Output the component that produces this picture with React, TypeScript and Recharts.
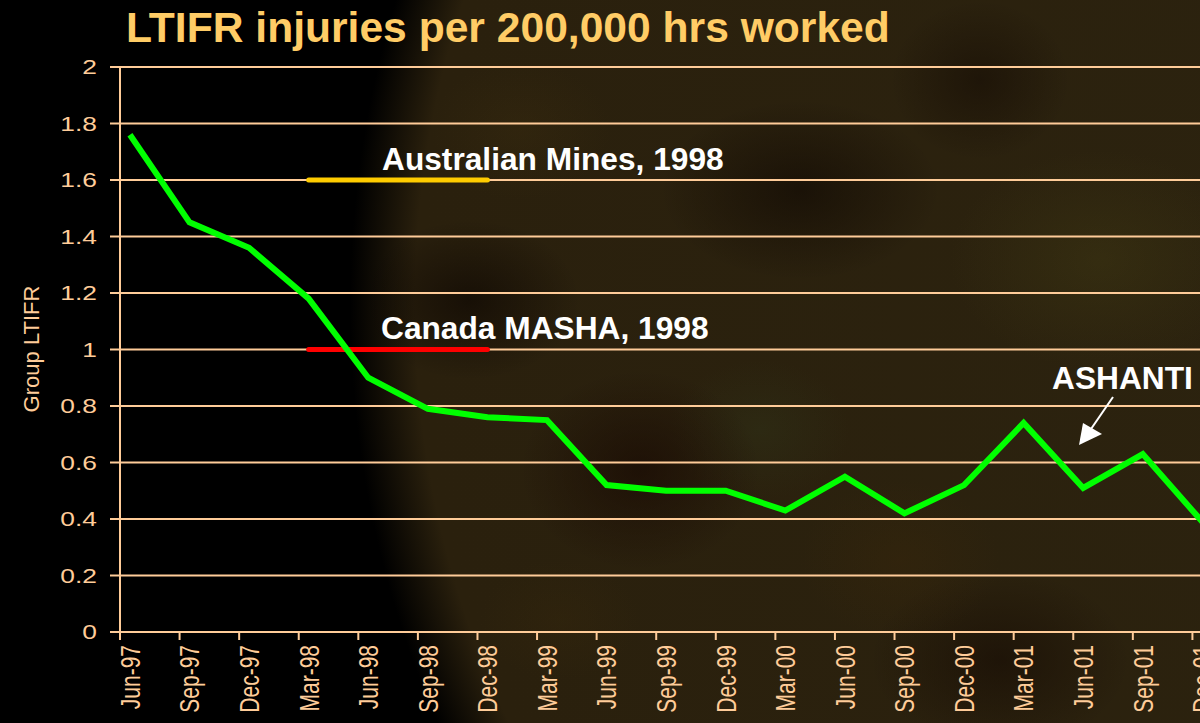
import { LineChart, Line, XAxis, YAxis, CartesianGrid } from 'recharts'

const quarters = [
  'Jun-97', 'Sep-97', 'Dec-97', 'Mar-98', 'Jun-98', 'Sep-98', 'Dec-98', 'Mar-99',
  'Jun-99', 'Sep-99', 'Dec-99', 'Mar-00', 'Jun-00', 'Sep-00', 'Dec-00', 'Mar-01',
  'Jun-01', 'Sep-01', 'Dec-01',
]
const ltifr = [
  1.76, 1.45, 1.36, 1.18, 0.9, 0.79, 0.76, 0.75,
  0.52, 0.5, 0.5, 0.43, 0.55, 0.42, 0.52, 0.74,
  0.51, 0.63, 0.39,
]
const yTicks = [0, 0.2, 0.4, 0.6, 0.8, 1, 1.2, 1.4, 1.6, 1.8, 2]

// industry benchmarks, drawn from Mar-98 to Dec-98
const benchmarkSpan = ['Mar-98', 'Dec-98']
const australianMines = 1.6
const canadaMasha = 1.0

const MONTHS_MAX = 57
const CHART_W = 1252
const CHART_H = 723
const LEFT = 120
const pxPerMonth = (CHART_W - LEFT) / MONTHS_MAX

const PEACH = '#FFCC99'
const FONT = '"Liberation Sans", Arial, sans-serif'

// points sit mid-month, ticks at the start of each quarter month
const data = quarters.map((q, i) => ({ q, month: i * 3 + 0.5, ltifr: ltifr[i] }))
const xTicks = quarters.map((_, i) => i * 3)

const spanData = (v: number) =>
  benchmarkSpan.map((q) => ({ month: quarters.indexOf(q) * 3 + 0.5, v }))

function XTick({ x, y, payload }: any) {
  const label = quarters[Math.round(payload.value / 3)]
  return (
    <g transform={`translate(${x + pxPerMonth / 2},${y}) scale(1.3,1) rotate(-90)`}>
      <text textAnchor="end" dy="0.36em" fill={PEACH} fontSize={21} fontFamily={FONT}>
        {label}
      </text>
    </g>
  )
}

function YTick({ x, y, payload }: any) {
  return (
    <g transform={`translate(${x},${y}) scale(1.32,1)`}>
      <text textAnchor="end" dy="0.36em" fill={PEACH} fontSize={20} fontFamily={FONT}>
        {payload.value}
      </text>
    </g>
  )
}

const bg = [
  'radial-gradient(ellipse 110px 80px at 470px 300px, rgba(8,2,0,0.55), transparent)',
  'radial-gradient(ellipse 90px 70px at 520px 130px, rgba(60,45,15,0.35), transparent)',
  'radial-gradient(ellipse 140px 90px at 800px 190px, rgba(10,3,0,0.5), transparent)',
  'radial-gradient(ellipse 120px 100px at 640px 470px, rgba(20,4,0,0.55), transparent)',
  'radial-gradient(ellipse 150px 110px at 1100px 260px, rgba(70,64,20,0.35), transparent)',
  'radial-gradient(ellipse 100px 80px at 900px 560px, rgba(60,40,10,0.35), transparent)',
  'radial-gradient(ellipse 90px 70px at 760px 430px, rgba(50,60,30,0.3), transparent)',
  'radial-gradient(ellipse 80px 60px at 560px 620px, rgba(55,40,12,0.35), transparent)',
  'radial-gradient(ellipse 130px 90px at 1000px 660px, rgba(15,4,0,0.45), transparent)',
  'radial-gradient(ellipse 90px 80px at 980px 80px, rgba(12,3,0,0.4), transparent)',
  'radial-gradient(circle 1040px at 1390px 305px, #2c230f 0, #2a200d 975px, #000 1040px)',
].join(',')

export default function App() {
  return (
    <div
      style={{
        position: 'fixed',
        left: 0,
        top: 0,
        width: 1200,
        height: 723,
        overflow: 'hidden',
        background: bg,
        backgroundColor: '#000',
      }}
    >
      <div style={{ position: 'absolute', left: 0, top: 0 }}>
        <LineChart
          width={CHART_W}
          height={CHART_H}
          data={data}
          margin={{ top: 67, right: 0, bottom: 0, left: 0 }}
        >
          <CartesianGrid horizontal vertical={false} stroke={PEACH} strokeWidth={2} />
          <XAxis
            dataKey="month"
            type="number"
            domain={[0, MONTHS_MAX]}
            ticks={xTicks}
            interval={0}
            height={CHART_H - 632}
            stroke={PEACH}
            strokeWidth={2}
            tickSize={8}
            tickMargin={5}
            tick={<XTick />}
          />
          <YAxis
            domain={[0, 2]}
            ticks={yTicks}
            interval={0}
            width={LEFT}
            stroke={PEACH}
            strokeWidth={2}
            tickSize={10}
            tickMargin={13}
            tick={<YTick />}
          />
          <Line
            data={spanData(australianMines)}
            dataKey="v"
            stroke="#FFCC00"
            strokeWidth={5}
            strokeLinecap="round"
            dot={false}
            activeDot={false}
            isAnimationActive={false}
          />
          <Line
            data={spanData(canadaMasha)}
            dataKey="v"
            stroke="#FF0000"
            strokeWidth={5}
            strokeLinecap="round"
            dot={false}
            activeDot={false}
            isAnimationActive={false}
          />
          <Line
            dataKey="ltifr"
            type="linear"
            stroke="#00FF00"
            strokeWidth={6}
            dot={false}
            activeDot={false}
            isAnimationActive={false}
          />
        </LineChart>
      </div>
      <svg
        width={1200}
        height={723}
        style={{ position: 'absolute', left: 0, top: 0, pointerEvents: 'none' }}
      >
        <text x={126} y={42} fill="#FFCC66" fontSize={42.6} fontWeight="bold" fontFamily={FONT}>
          LTIFR injuries per 200,000 hrs worked
        </text>
        <text
          x={39}
          y={349}
          transform="rotate(-90, 39, 349)"
          textAnchor="middle"
          fill={PEACH}
          fontSize={22}
          fontFamily={FONT}
        >
          Group LTIFR
        </text>
        <text x={382} y={170} fill="#FFFFFF" fontSize={31.7} fontWeight="bold" fontFamily={FONT}>
          Australian Mines, 1998
        </text>
        <text x={381} y={339} fill="#FFFFFF" fontSize={31.7} fontWeight="bold" fontFamily={FONT}>
          Canada MASHA, 1998
        </text>
        <text x={1052} y={389} fill="#FFFFFF" fontSize={31.7} fontWeight="bold" fontFamily={FONT}>
          ASHANTI
        </text>
        <line x1={1113} y1={397} x2={1091} y2={429} stroke="#FFFFFF" strokeWidth={2} />
        <polygon points="1079,445 1083,423 1102,434" fill="#FFFFFF" />
      </svg>
    </div>
  )
}
